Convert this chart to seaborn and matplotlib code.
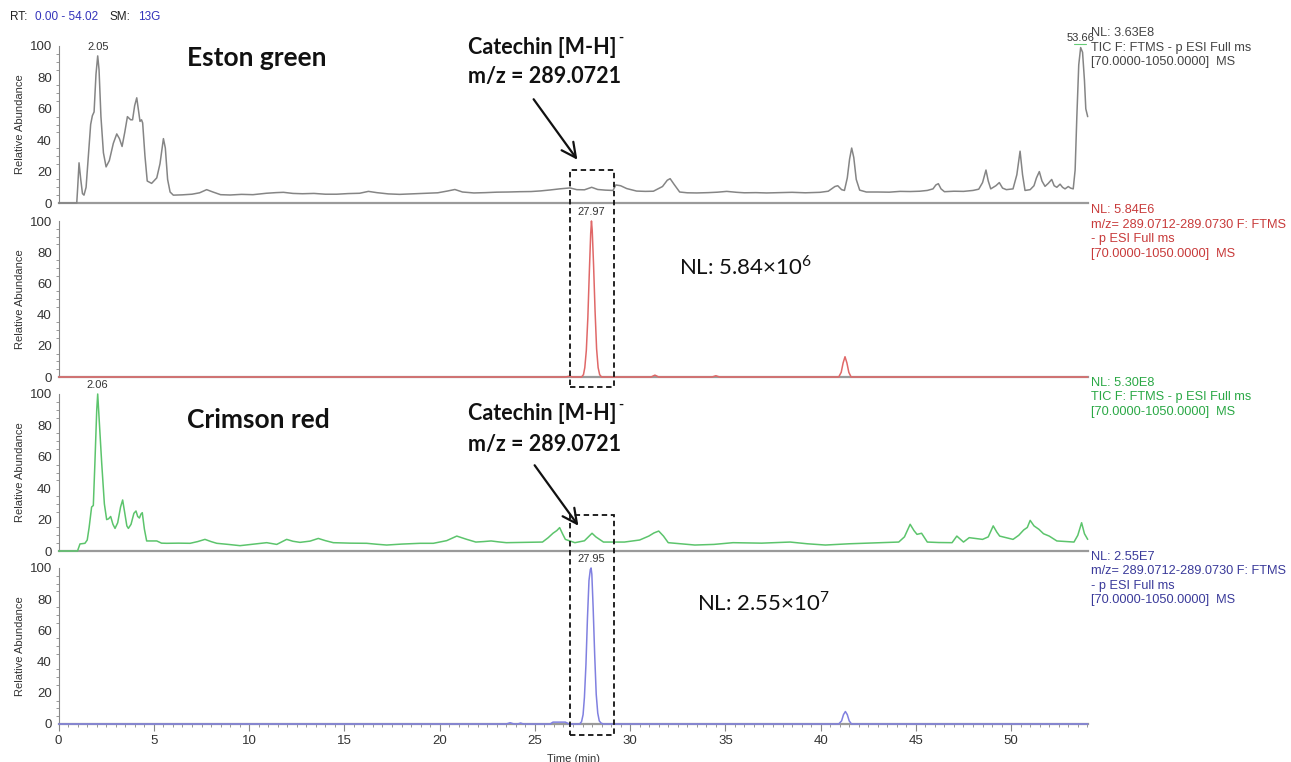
import numpy as np
import pandas as pd
import matplotlib.pyplot as plt
import seaborn as sns
from matplotlib.patches import Rectangle, FancyArrowPatch
from matplotlib.ticker import MultipleLocator

# ---- data (time in min, relative abundance in %) ----
eg_tic_t = [0.0, 0.95, 1.0, 1.07, 1.16, 1.25, 1.33, 1.44, 1.56, 1.68, 1.77, 1.86, 1.96, 2.05, 2.12,
            2.22, 2.35, 2.49, 2.66, 2.87, 3.05, 3.19, 3.33, 3.47, 3.61, 3.78, 3.88, 3.99, 4.10,
            4.18, 4.27, 4.35, 4.41, 4.53, 4.65, 4.88, 5.15, 5.32, 5.50, 5.60, 5.72, 5.85, 6.02,
            6.5, 7.0, 7.4, 7.77, 8.1, 8.5, 9.0, 9.6, 10.2, 10.9, 11.4, 11.8, 12.3, 12.8, 13.4,
            14.0, 14.6, 15.2, 15.8, 16.26, 16.7, 17.3, 17.9, 18.5, 19.2, 19.9, 20.4, 20.8,
            21.2, 21.8, 22.4, 23.0, 23.6, 24.2, 24.8, 25.3, 25.8, 26.3, 26.84, 27.2, 27.6,
            27.98, 28.3, 28.7, 29.1, 29.25, 29.5, 29.82, 30.34, 30.8, 31.22, 31.7, 31.95,
            32.1, 32.3, 32.6, 33.0, 33.5, 34.1, 34.6, 35.07, 35.6, 36.0, 36.6, 37.17, 37.8,
            38.5, 39.2, 39.97, 40.4, 40.75, 40.9, 41.1, 41.25, 41.4, 41.52, 41.63, 41.74, 41.87,
            42.05, 42.4, 43.0, 43.6, 44.17, 44.7, 45.2, 45.6, 45.9, 46.05, 46.18, 46.32, 46.5,
            47.0, 47.5, 48.0, 48.3, 48.5, 48.68, 48.8, 48.93, 49.2, 49.38, 49.55, 49.75, 50.1,
            50.3, 50.47, 50.6, 50.73, 51.0, 51.2, 51.33, 51.48, 51.62, 51.78, 51.95, 52.13, 52.26,
            52.4, 52.57, 52.7, 52.83, 53.0, 53.12, 53.26, 53.36, 53.45, 53.55, 53.65, 53.75, 53.85,
            53.92, 54.02]
eg_tic_y = [0, 0, 10, 25.6, 15, 6, 5, 10, 30, 50, 55.6, 58, 82, 93.7, 85,
            55, 32, 23, 27, 38, 44, 41, 36, 45, 55, 53, 53, 62, 67,
            60, 52, 53, 51, 30, 14, 12.5, 16, 25, 41, 35, 15, 7, 5,
            5.2, 5.6, 6.5, 8.5, 7, 5.3, 5.1, 5.5, 5.3, 6.2, 6.6, 6.8, 6.1, 5.9, 6.1,
            5.6, 5.6, 6.0, 6.2, 7.4, 6.6, 5.8, 5.5, 5.8, 6.1, 6.5, 7.6, 8.6,
            7.0, 6.4, 6.6, 6.9, 7.0, 7.2, 7.3, 7.7, 8.3, 9.0, 9.6, 8.5, 8.4,
            10.0, 8.6, 8.2, 8.0, 11.5, 11.0, 9.2, 7.6, 7.4, 7.5, 10.5, 14.5,
            15.5, 12, 7.0, 6.5, 6.4, 6.6, 6.9, 7.4, 6.8, 6.5, 6.6, 6.4, 6.6,
            6.8, 6.5, 6.8, 7.5, 10.5, 11, 8.5, 8, 16, 28, 35, 29, 15,
            8.2, 7.0, 7.0, 6.9, 7.4, 7.3, 7.5, 8.0, 9, 11.5, 12.3, 9, 7.2,
            7.5, 7.4, 8.0, 8.8, 13, 21, 14, 9, 11, 13, 9.5, 8.5, 9,
            18, 33, 18, 8, 8.5, 11, 16, 20, 14, 10.6, 12.5, 15, 11,
            10, 12, 10, 9, 10.5, 9.5, 9, 21, 55, 88, 99, 96, 78,
            60, 55]

eg_eic_t = [0.0, 26.6, 26.8, 27.0, 27.45, 27.55, 27.62, 27.70, 27.78, 27.86, 27.93, 27.97, 28.01,
            28.08, 28.16, 28.24, 28.32, 28.40, 28.50, 31.1, 31.3, 31.5, 34.3, 34.5, 34.7,
            40.95, 41.08, 41.18, 41.28, 41.38, 41.48, 41.6, 54.02]
eg_eic_y = [0, 0, 0.5, 0, 0, 1.5, 6, 17, 38, 68, 92, 100, 94,
            72, 42, 18, 6, 1.5, 0, 0, 1.2, 0, 0, 0.8, 0,
            0, 3, 9, 13, 9, 3, 0, 0]

cr_tic_t = [0.0, 0.99, 1.12, 1.38, 1.5, 1.6, 1.73, 1.82, 1.9, 2.0, 2.05, 2.12, 2.26, 2.4, 2.52,
            2.62, 2.73, 2.85, 2.96, 3.1, 3.25, 3.36, 3.46, 3.58, 3.66, 3.8, 3.95, 4.06, 4.15,
            4.24, 4.32, 4.39, 4.5, 4.62, 5.15, 5.4, 5.67, 6.3, 6.9, 7.3, 7.68, 8.0, 8.3, 8.9,
            9.52, 10.2, 10.92, 11.45, 11.97, 12.3, 12.67, 13.2, 13.63, 14.0, 14.42, 15.3,
            16.17, 16.7, 17.22, 18.0, 18.97, 19.67, 20.37, 20.9, 21.4, 21.9, 22.3, 22.7, 23.1,
            23.5, 24.4, 25.4, 25.7, 25.95, 26.15, 26.3, 26.45, 26.6, 27.1, 27.6, 27.85, 28.0,
            28.2, 28.6, 29.7, 30.5, 30.98, 31.25, 31.5, 31.75, 32.0, 33.4, 34.4, 35.4, 36.9,
            38.4, 39.3, 40.25, 41.5, 43.0, 44.1, 44.4, 44.7, 44.9, 45.06, 45.3, 45.6, 46.2,
            46.9, 47.15, 47.5, 47.8, 48.5, 48.8, 49.06, 49.25, 49.4, 50.1, 50.4, 50.66, 50.85,
            51.0, 51.2, 51.46, 51.7, 52.0, 52.4, 52.9, 53.3, 53.5, 53.7, 53.85, 54.02]
cr_tic_y = [0, 0, 4.5, 4.9, 7, 15, 28, 29, 55, 90, 100, 85, 56, 30, 20,
            20.5, 22, 17, 14.4, 18, 28, 32.5, 25, 16, 14.4, 17, 24, 25.5, 22,
            21, 23.5, 24.4, 14, 6.4, 6.4, 5, 4.9, 5.0, 4.9, 6.0, 7.4, 6.0, 4.9, 4.2,
            3.4, 4.3, 5.3, 4.2, 7.4, 6.2, 5.5, 6.3, 8, 6.6, 5.3, 5.0,
            4.9, 4.3, 3.8, 4.4, 4.9, 4.9, 6.6, 9.5, 7.5, 5.7, 6.0, 6.4, 5.8,
            5.3, 5.5, 5.7, 8.5, 11.3, 13, 14.9, 11, 7.4, 5.3, 6.5, 9.5, 11.3,
            9, 5.7, 5.7, 7.0, 9.5, 11.5, 12.7, 9.5, 5.3, 3.8, 4.2, 5.3, 5.0,
            5.7, 4.6, 3.8, 4.6, 5.2, 5.7, 9, 17, 13, 10.6, 11.3, 5.7, 5.4,
            5.3, 9.5, 5.7, 8.5, 7.4, 9, 16, 12, 9.5, 7.4, 10, 13.4, 15,
            19.5, 16, 13.8, 11, 9.5, 6.4, 6.0, 5.7, 10, 18, 11, 7.4]

cr_eic_t = [0.0, 23.5, 23.7, 23.9, 24.1, 24.25, 24.4, 25.8, 25.95, 26.6, 26.8, 27.35, 27.45, 27.53,
            27.6, 27.68, 27.76, 27.84, 27.91, 27.95, 27.99, 28.06, 28.14, 28.22, 28.3, 28.38,
            28.48, 28.6, 40.95, 41.1, 41.2, 41.3, 41.4, 41.5, 41.62, 54.02]
cr_eic_y = [0, 0, 0.8, 0, 0, 0.6, 0, 0, 1.2, 1.2, 0, 0, 1.5, 6,
            17, 38, 68, 92, 99, 100, 96, 74, 44, 19, 7, 2,
            0.5, 0, 0, 2, 6, 8, 6, 2, 0, 0]

peak_labels = [("2.05", 2.05, 93.7), ("53.66", 53.65, 99), ("27.97", 27.97, 100),
               ("2.06", 2.05, 100), ("27.95", 27.95, 100)]

info_lines = [
    ["NL: 3.63E8", "TIC F: FTMS - p ESI Full ms", "[70.0000-1050.0000]  MS"],
    ["NL: 5.84E6", "m/z= 289.0712-289.0730 F: FTMS", "- p ESI Full ms", "[70.0000-1050.0000]  MS"],
    ["NL: 5.30E8", "TIC F: FTMS - p ESI Full ms", "[70.0000-1050.0000]  MS"],
    ["NL: 2.55E7", "m/z= 289.0712-289.0730 F: FTMS", "- p ESI Full ms", "[70.0000-1050.0000]  MS"],
]
trace_colors = ["#858585", "#e06868", "#5cc46c", "#8080e0"]
info_colors = ["#444444", "#c83a3a", "#2aa845", "#3a3a9a"]

# ---- figure ----
W, H = 1291, 762
sns.set_style("white")
plt.rcParams['font.family'] = ['Liberation Sans', 'DejaVu Sans']
plt.rcParams['mathtext.fontset'] = 'custom'
plt.rcParams['mathtext.rm'] = 'Lato'
plt.rcParams['mathtext.bf'] = 'Lato:bold'

fig = plt.figure(figsize=(W / 100, H / 100), dpi=100)


def fx(px):
    return px / W


def fy(py):
    return 1 - py / H


x0, x1 = 58.65, 1087.7
panel_px = [(46, 203), (221, 377), (394, 551), (568, 724)]
series = [(eg_tic_t, eg_tic_y), (eg_eic_t, eg_eic_y), (cr_tic_t, cr_tic_y), (cr_eic_t, cr_eic_y)]

axes = []
for i, ((top, bot), (t, y)) in enumerate(zip(panel_px, series)):
    ax = fig.add_axes([fx(x0), fy(bot), fx(x1) - fx(x0), (bot - top) / H])
    df = pd.DataFrame({"time": t, "abund": y})
    sns.lineplot(data=df, x="time", y="abund", ax=ax, color=trace_colors[i],
                 lw=1.1, estimator=None, sort=False, clip_on=False, zorder=3)
    ax.set_xlim(0, 54.02)
    ax.set_ylim(0, 100)
    ax.set_xlabel("")
    ax.set_ylabel("Relative Abundance", fontsize=8, color="#333333")
    ax.yaxis.set_major_locator(MultipleLocator(20))
    ax.yaxis.set_minor_locator(MultipleLocator(5))
    ax.tick_params(axis="y", which="major", length=4, width=0.8, color="#888888",
                   labelsize=9.5, labelcolor="#333333", pad=1)
    ax.tick_params(axis="y", which="minor", length=2.5, width=0.6, color="#888888", left=True)
    for s in ["top", "right"]:
        ax.spines[s].set_visible(False)
    ax.spines["left"].set_color("#888888")
    ax.spines["left"].set_linewidth(0.8)
    ax.spines["bottom"].set_color("#9a9a9a")
    ax.spines["bottom"].set_linewidth(1.6)
    ax.spines["bottom"].set_zorder(1)
    ax.patch.set_alpha(0)
    if i < 3:
        ax.tick_params(axis="x", which="both", bottom=False, labelbottom=False)
    else:
        ax.xaxis.set_major_locator(MultipleLocator(5))
        ax.xaxis.set_minor_locator(MultipleLocator(0.5))
        ax.tick_params(axis="x", which="major", length=5, width=0.8, color="#888888",
                       labelsize=9.5, labelcolor="#333333", pad=3, bottom=True)
        ax.tick_params(axis="x", which="minor", length=2.5, width=0.6, color="#888888", bottom=True)
        ax.set_xlabel("Time (min)", fontsize=8, color="#333333")
        ax.xaxis.set_label_coords(0.5, -0.19)
    ax.yaxis.set_label_coords(-0.033, 0.5)
    axes.append(ax)

# peak apex labels
for (lab, t, v), ax in zip(peak_labels, [axes[0], axes[0], axes[1], axes[2], axes[3]]):
    ax.annotate(lab, (t, v), xytext=(0, 3), textcoords="offset points", ha="center",
                va="bottom", fontsize=8, color="#333333", annotation_clip=False)
axes[0].plot([53.3, 53.95], [101.5, 101.5], color="#66cc77", lw=0.8, clip_on=False)

# instrument info, right side
info_top = [33, 210, 383, 557]
for lines, ytop, c in zip(info_lines, info_top, info_colors):
    for k, line in enumerate(lines):
        fig.text(fx(1091), fy(ytop + 14.5 * k), line, fontsize=9.2, color=c, va="center", ha="left")

# header
fig.text(fx(10), fy(17), "RT:", fontsize=8.5, color="#222222", va="center")
fig.text(fx(35), fy(17), "0.00 - 54.02", fontsize=8.5, color="#3333bb", va="center")
fig.text(fx(110), fy(17), "SM:", fontsize=8.5, color="#222222", va="center")
fig.text(fx(138), fy(17), "13G", fontsize=8.5, color="#3333bb", va="center")

# sample names and compound annotations
bold = dict(family=["Lato", "DejaVu Sans"], fontweight="bold", color="#111111")
fig.text(fx(187), fy(58), "Eston green", fontsize=19, va="center", **bold)
fig.text(fx(187), fy(420), "Crimson red", fontsize=19, va="center", **bold)
rend = fig.canvas.get_renderer()
for ytxt in (47, 414):
    t1 = fig.text(fx(468), fy(ytxt), "Catechin [M-H]", fontsize=15.5, va="center", **bold)
    bb = t1.get_window_extent(renderer=rend)
    fig.text(fx(bb.x1 + 2), fy(ytxt - 9), "-", fontsize=10, va="center", **bold)
    fig.text(fx(468), fy(ytxt + 30), "m/z = 289.0721", fontsize=15.5, va="center", **bold)

for (xa, ya, xb, yb) in [(532, 97, 579, 162), (533, 463, 580, 528)]:
    fig.add_artist(FancyArrowPatch((fx(xa), fy(ya)), (fx(xb), fy(yb)), transform=fig.transFigure,
                                   arrowstyle="->", mutation_scale=26, lw=1.6, color="#111111"))

for (ytop, ybot) in [(170, 387), (515, 735)]:
    fig.add_artist(Rectangle((fx(570), fy(ybot)), fx(614) - fx(570), (ybot - ytop) / H,
                             transform=fig.transFigure, fill=False, ls=(0, (3, 2)),
                             lw=1.3, ec="#111111", zorder=5))

fig.text(fx(679), fy(267), r"NL: 5.84$\times$10$^{6}$", fontsize=16,
         family=["Lato", "DejaVu Sans"], color="#111111", va="center")
fig.text(fx(697), fy(603), r"NL: 2.55$\times$10$^{7}$", fontsize=16,
         family=["Lato", "DejaVu Sans"], color="#111111", va="center")

fig.savefig("out.png", dpi=100)
